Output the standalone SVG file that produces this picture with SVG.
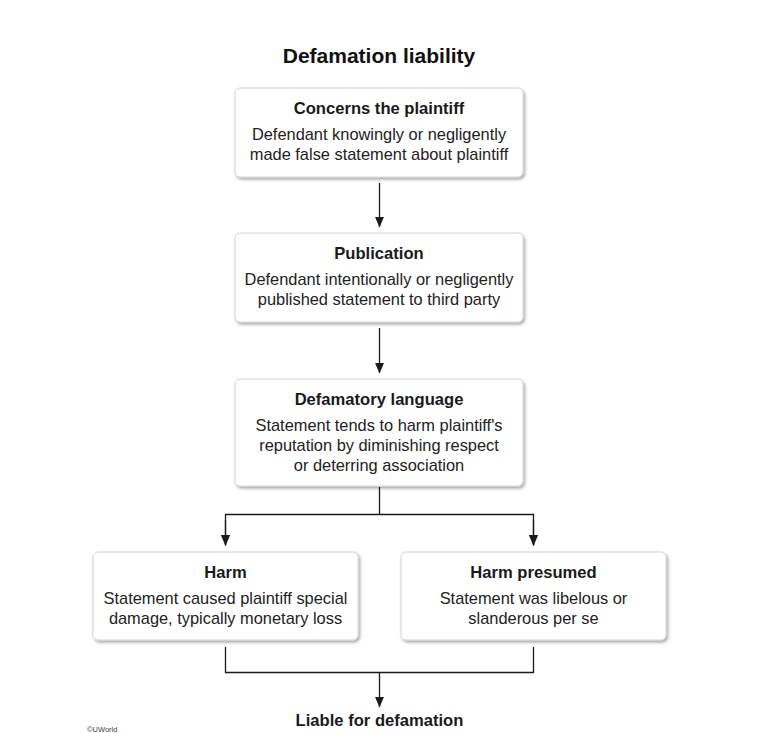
<svg xmlns="http://www.w3.org/2000/svg" width="781" height="733" viewBox="0 0 781 733">
<style>
.box{fill:#fff;stroke:#d4d4d4;stroke-width:1;filter:url(#sh)}
.hd{font-family:"Liberation Sans",Arial,sans-serif;font-size:16.6px;font-weight:bold;fill:#1a1a1a;text-anchor:middle}
.bd{font-family:"Liberation Sans",Arial,sans-serif;font-size:16.4px;fill:#222;text-anchor:middle}
.ln{fill:none;stroke:#1a1a1a;stroke-width:1.3}
</style>
<defs>
<filter id="sh" x="-10%" y="-10%" width="120%" height="130%">
<feDropShadow dx="1.5" dy="2" stdDeviation="1.5" flood-color="#000" flood-opacity="0.35"/>
</filter>
<marker id="ar" markerUnits="userSpaceOnUse" markerWidth="11" markerHeight="11" viewBox="0 0 10 10" refX="9.5" refY="5" orient="auto">
<path d="M0,0.8 L10,5 L0,9.2 Z" fill="#1a1a1a"/>
</marker>
</defs>
<rect width="781" height="733" fill="#fff"/>
<text x="379" y="63" font-family="'Liberation Sans',Arial,sans-serif" font-size="21" font-weight="bold" fill="#111" text-anchor="middle">Defamation liability</text>

<g id="connectors">
<path class="ln" d="M379.5,183 V227" marker-end="url(#ar)"/>
<path class="ln" d="M379.5,328 V373" marker-end="url(#ar)"/>
<path class="ln" d="M379.5,487 V514.5"/>
<path class="ln" d="M225.5,545 V514.5 H533.5 V545" />
<path class="ln" d="M225.5,520 V545.5" marker-end="url(#ar)"/>
<path class="ln" d="M533.5,520 V545.5" marker-end="url(#ar)"/>
<path class="ln" d="M225.5,647 V672.5 H533.5 V647"/>
<path class="ln" d="M379.5,672.5 V707" marker-end="url(#ar)"/>
</g>

<g id="concerns">
<rect class="box" x="235" y="88" width="288" height="89" rx="5"/>
<text class="hd" x="379" y="114">Concerns the plaintiff</text>
<text class="bd" x="379" y="140">Defendant knowingly or negligently</text>
<text class="bd" x="379" y="160">made false statement about plaintiff</text>
</g>

<g id="publication">
<rect class="box" x="235" y="233" width="288" height="89" rx="5"/>
<text class="hd" x="379" y="259">Publication</text>
<text class="bd" x="379" y="285">Defendant intentionally or negligently</text>
<text class="bd" x="379" y="305">published statement to third party</text>
</g>

<g id="defamatory">
<rect class="box" x="235" y="379" width="288" height="107" rx="5"/>
<text class="hd" x="379" y="405">Defamatory language</text>
<text class="bd" x="379" y="431">Statement tends to harm plaintiff's</text>
<text class="bd" x="379" y="451">reputation by diminishing respect</text>
<text class="bd" x="379" y="471">or deterring association</text>
</g>

<g id="harm">
<rect class="box" x="93" y="552" width="265" height="88" rx="5"/>
<text class="hd" x="225.5" y="578">Harm</text>
<text class="bd" x="225.5" y="604">Statement caused plaintiff special</text>
<text class="bd" x="225.5" y="624">damage, typically monetary loss</text>
</g>

<g id="harm-presumed">
<rect class="box" x="401" y="552" width="265" height="88" rx="5"/>
<text class="hd" x="533.5" y="578">Harm presumed</text>
<text class="bd" x="533.5" y="604">Statement was libelous or</text>
<text class="bd" x="533.5" y="624">slanderous per se</text>
</g>

<g id="liable">
<text class="hd" x="379.5" y="726">Liable for defamation</text>
</g>

<text x="87" y="732" font-family="'Liberation Sans',Arial,sans-serif" font-size="7.5" fill="#444">©UWorld</text>
</svg>
